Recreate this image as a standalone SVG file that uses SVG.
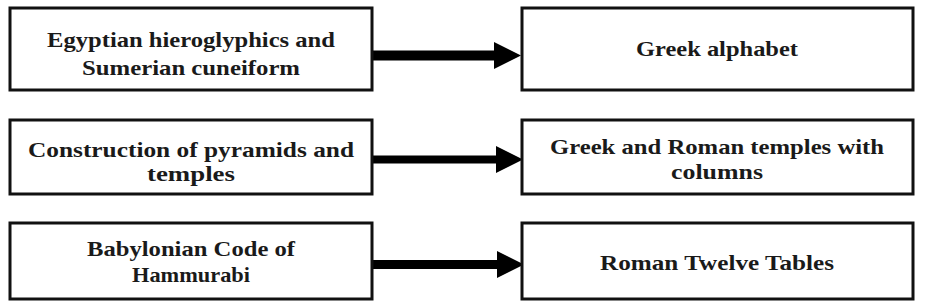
<svg xmlns="http://www.w3.org/2000/svg" width="929" height="307" viewBox="0 0 929 307">
<style>
.box{fill:#fff;stroke:#111;stroke-width:3}
.t{font-family:"Liberation Serif","Times New Roman",serif;font-weight:bold;font-size:21px;fill:#1a1a1a;text-anchor:middle}
.conn{stroke:#000;fill:none}
</style>
<defs>
<marker id="ah" markerUnits="userSpaceOnUse" markerWidth="28" markerHeight="28" refX="0" refY="14" orient="auto" viewBox="0 0 28 28">
<path d="M0,0.5 L27,14 L0,27.5 Z" fill="#000"/>
</marker>
</defs>
<rect width="929" height="307" fill="#fff"/>
<g id="connectors">
<line class="conn" x1="372" y1="55.5" x2="494" y2="55.5" stroke-width="10" marker-end="url(#ah)"/>
<line class="conn" x1="372" y1="159.5" x2="496" y2="159.5" stroke-width="8" marker-end="url(#ah)"/>
<line class="conn" x1="372" y1="264.5" x2="497" y2="264.5" stroke-width="9" marker-end="url(#ah)"/>
</g>
<g id="n1">
<rect class="box" x="10" y="8" width="362" height="82"/>
<text class="t" x="191" y="47" textLength="288" lengthAdjust="spacingAndGlyphs">Egyptian hieroglyphics and</text>
<text class="t" x="191" y="75" textLength="218" lengthAdjust="spacingAndGlyphs">Sumerian cuneiform</text>
</g>
<g id="n2">
<rect class="box" x="522" y="8" width="391" height="82"/>
<text class="t" x="717" y="56" textLength="162" lengthAdjust="spacingAndGlyphs">Greek alphabet</text>
</g>
<g id="n3">
<rect class="box" x="10" y="120" width="362" height="74"/>
<text class="t" x="191" y="157" textLength="326" lengthAdjust="spacingAndGlyphs">Construction of pyramids and</text>
<text class="t" x="191" y="181" textLength="88" lengthAdjust="spacingAndGlyphs">temples</text>
</g>
<g id="n4">
<rect class="box" x="522" y="120" width="391" height="74"/>
<text class="t" x="717" y="154" textLength="334" lengthAdjust="spacingAndGlyphs">Greek and Roman temples with</text>
<text class="t" x="717" y="179" textLength="92" lengthAdjust="spacingAndGlyphs">columns</text>
</g>
<g id="n5">
<rect class="box" x="10" y="223" width="362" height="76"/>
<text class="t" x="191" y="256" textLength="208" lengthAdjust="spacingAndGlyphs">Babylonian Code of</text>
<text class="t" x="191" y="282" textLength="118" lengthAdjust="spacingAndGlyphs">Hammurabi</text>
</g>
<g id="n6">
<rect class="box" x="522" y="223" width="391" height="76"/>
<text class="t" x="717" y="270" textLength="234" lengthAdjust="spacingAndGlyphs">Roman Twelve Tables</text>
</g>
</svg>
